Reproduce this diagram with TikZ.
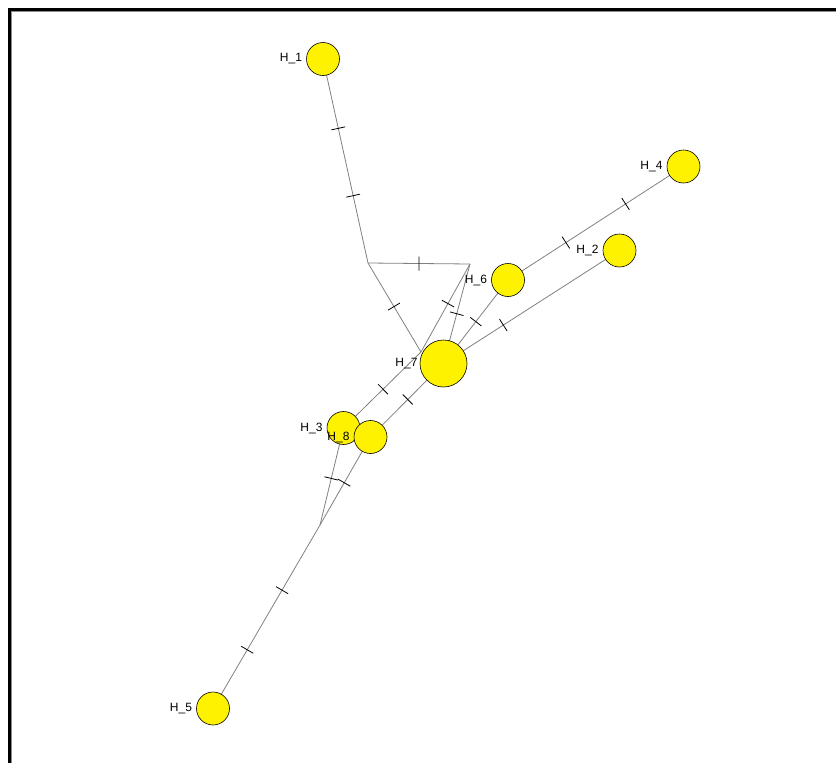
\documentclass[tikz,border=0pt]{standalone}
\usepackage{fontspec}
\setmainfont{Liberation Sans}
\usetikzlibrary{positioning,decorations.markings,backgrounds}

\begin{document}
\begin{tikzpicture}[x=1pt, y=-1pt,
    node distance=4pt,
    hap/.style={circle, draw=black, line width=0.6pt, fill=yellow, inner sep=0pt, minimum size=33pt},
    bighap/.style={hap, minimum size=47pt},
    hlab/.style={inner sep=0pt, font=\fontsize{12}{13}\selectfont},
    link/.style={draw=black!50, line width=0.8pt},
    mut/.style={postaction={decorate, decoration={markings,
        mark=at position #1 with {\draw[black, line width=0.8pt] (0pt,-7pt) -- (0pt,7pt);}}}}
]
\useasboundingbox (0,0) rectangle (836,763);

% frame
\draw[line width=3pt] (9.5,763) -- (9.5,9.5) -- (836,9.5);
\draw[black!45, line width=0.8pt] (11.5,763) -- (11.5,11.5) -- (836,11.5);

% haplotypes
\node[hap] (h1) at (323,59) {};
\node[hap] (h4) at (683.5,166.5) {};
\node[hap] (h2) at (619.5,250.5) {};
\node[hap] (h6) at (508,280) {};
\node[bighap] (h7) at (443.5,363.5) {};
\node[hap] (h3) at (343.5,428) {};
\node[hap] (h8) at (370.5,437) {};
\node[hap] (h5) at (213,708.5) {};

% median vectors
\coordinate (a) at (368,263);
\coordinate (b) at (470,264);
\coordinate (v) at (421,352);
\coordinate (c) at (320,525);

\node[hlab, left=of h1] (l1) {H\_1};
\node[hlab, left=of h4] (l4) {H\_4};
\node[hlab, left=of h2] (l2) {H\_2};
\node[hlab, left=of h6] (l6) {H\_6};
\node[hlab, left=2pt of h7] (l7) {H\_7};
\node[hlab, left=of h3] (l3) {H\_3};
\node[hlab, left=of h8] (l8) {H\_8};
\node[hlab, left=of h5] (l5) {H\_5};

\begin{scope}[on background layer]
\draw[link, mut=0.34, mut=0.67] (h1.center) -- (a);
\draw[link, mut=0.5] (a) -- (b);
\draw[link, mut=0.49] (a) -- (v);
\draw[link, mut=0.45] (b) -- (v);
\draw[link, mut=0.5] (b) -- (h7.center);
\draw[link, mut=0.33, mut=0.67] (h4.center) -- (h6.center);
\draw[link, mut=0.5] (h6.center) -- (h7.center);
\draw[link, mut=0.34] (h7.center) -- (h2.center);
\draw[link, mut=0.49] (v) -- (h3.center);
\draw[link, mut=0.49] (h7.center) -- (h8.center);
\draw[link, mut=0.52] (h3.center) -- (c);
\draw[link, mut=0.52] (h8.center) -- (c);
\draw[link, mut=0.355, mut=0.68] (c) -- (h5.center);
\end{scope}
\end{tikzpicture}
\end{document}
